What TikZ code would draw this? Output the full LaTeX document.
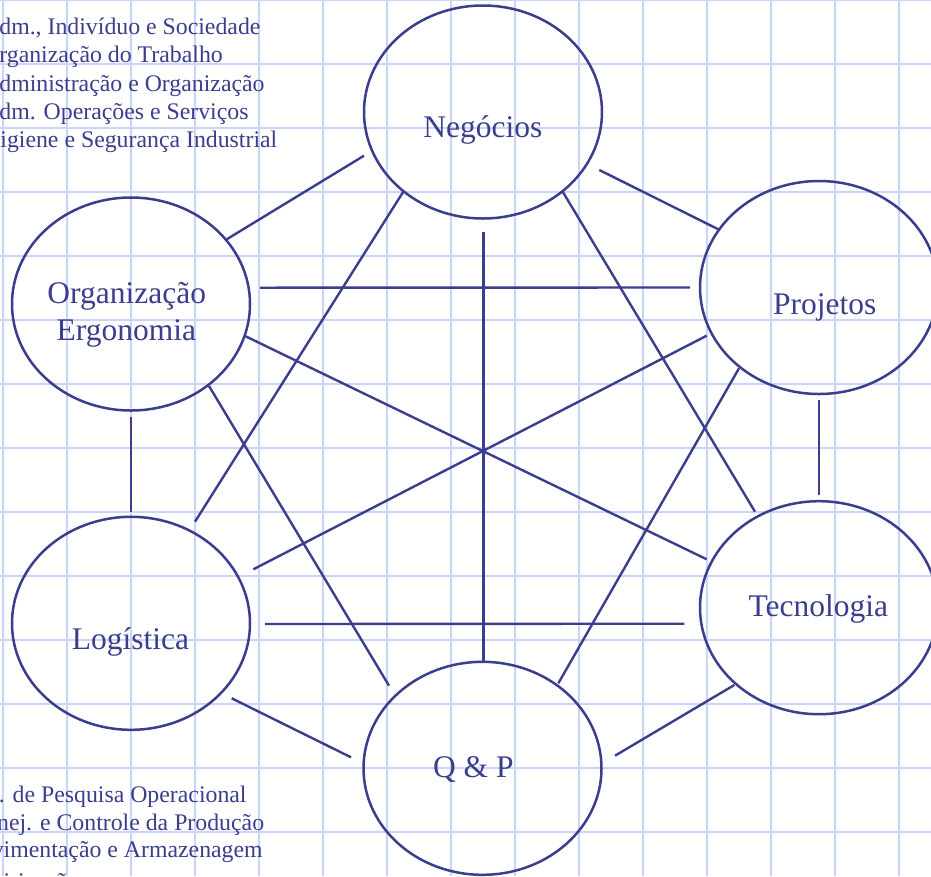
\documentclass[tikz,border=0pt]{standalone}
\usepackage{fontspec}
\setmainfont{Liberation Serif}
\usetikzlibrary{shapes.geometric}
\definecolor{ink}{RGB}{58,62,140}
\definecolor{gridc}{RGB}{200,213,248}
\begin{document}
\begin{tikzpicture}[x=1pt,y=-1pt,
  bubble/.style={draw=ink, line width=2.5pt, ellipse, inner sep=0pt, minimum width=238pt, minimum height=213pt},
  lbl/.style={text=ink, font=\fontsize{31.5}{36}\selectfont, anchor=base, inner sep=0pt},
  sidetext/.style={text=ink, font=\fontsize{23.8}{28}\selectfont, anchor=base west, inner sep=0pt},
  link/.style={draw=ink, line width=2.4pt},
  gridline/.style={draw=gridc, line width=2pt}]
\useasboundingbox (0,0) rectangle (931,876);
\clip (0,0) rectangle (931,876);
\fill[white] (0,0) rectangle (931,876);
\foreach \k in {0,...,14} \draw[gridline] (2.5+64*\k,0) -- (2.5+64*\k,876);
\foreach \k in {0,...,13} \draw[gridline] (0,64*\k-0.5) -- (931,64*\k-0.5);

% side texts
\node[sidetext] (t1) at (-18,34.5) {Adm., Indivíduo e Sociedade};
\node[sidetext] (t2) at (-18,62.8) {Organização do Trabalho};
\node[sidetext] (t3) at (-18,91.1) {Administração e Organização};
\node[sidetext] (t4) at (-18,119.4) {Adm. Operações e Serviços};
\node[sidetext] (t5) at (-17,147.7) {Higiene e Segurança Industrial};
\node[sidetext] (b1) at (-34.5,802.5) {Intr. de Pesquisa Operacional};
\node[sidetext] (b2) at (-33.5,830.2) {Planej. e Controle da Produção};
\node[sidetext] (b3) at (-41.5,857.9) {Movimentação e Armazenagem};
\node[sidetext] (b4) at (-41.5,889) {Roteirização};

% ellipses
\node[bubble] (neg) at (483,112) {};
\node[bubble] (proj) at (819,287.5) {};
\node[bubble] (org) at (131,304) {};
\node[bubble] (log) at (131,623.3) {};
\node[bubble] (tec) at (819,607.7) {};
\node[bubble] (qp) at (482.5,768.3) {};

\node[lbl] (negL) at (482.8,137.3) {Negócios};
\node[lbl] (projL) at (824.7,314) {Projetos};
\node[lbl] (orgL1) at (126.7,303.3) {Organização};
\node[lbl] (orgL2) at (126.3,340) {Ergonomia};
\node[lbl] (logL) at (130.5,649.3) {Logística};
\node[lbl] (tecL) at (818.3,616.7) {Tecnologia};
\node[lbl] (qpL) at (473.3,777.3) {Q \& P};

% connector end points
\coordinate (negOrg) at (364,155.7);   \coordinate (orgNeg) at (226.7,239.3);
\coordinate (negProj) at (599.3,170);  \coordinate (projNeg) at (718.3,229.3);
\coordinate (negLog) at (403.3,191.7); \coordinate (logNeg) at (195,521.7);
\coordinate (negQp) at (483.3,232.3);  \coordinate (qpNeg) at (483.3,662.7);
\coordinate (negTec) at (562.7,191.7); \coordinate (tecNeg) at (755,511.7);
\coordinate (orgProj) at (260,287.7);  \coordinate (projOrg) at (690,287.5);
\coordinate (orgTec) at (245,336);     \coordinate (tecOrg) at (706.7,559.3);
\coordinate (orgQp) at (209,386);      \coordinate (qpOrg) at (389,685.7);
\coordinate (orgLog) at (131,417.3);   \coordinate (logOrg) at (131,511.7);
\coordinate (projLog) at (706.7,335.7); \coordinate (logProj) at (253.3,569.3);
\coordinate (projQp) at (739,368.3);   \coordinate (qpProj) at (558.3,683.3);
\coordinate (projTec) at (819,400);    \coordinate (tecProj) at (819,495);
\coordinate (logTec) at (265,624);     \coordinate (tecLog) at (684.3,623.7);
\coordinate (logQp) at (231.7,698.3);  \coordinate (qpLog) at (351,757.3);
\coordinate (tecQp) at (734.3,685);    \coordinate (qpTec) at (615,755.7);

\draw[link] (negOrg) -- (orgNeg);
\draw[link] (negProj) -- (projNeg);
\draw[link] (negLog) -- (logNeg);
\draw[link] (negQp) -- (qpNeg);
\draw[link] (negTec) -- (tecNeg);
\draw[link] (orgProj) -- (projOrg);
\draw[link] (orgTec) -- (tecOrg);
\draw[link] (orgQp) -- (qpOrg);
\draw[link] (orgLog) -- (logOrg);
\draw[link] (projLog) -- (logProj);
\draw[link] (projQp) -- (qpProj);
\draw[link] (projTec) -- (tecProj);
\draw[link] (logTec) -- (tecLog);
\draw[link] (logQp) -- (qpLog);
\draw[link] (tecQp) -- (qpTec);
\end{tikzpicture}
\end{document}
